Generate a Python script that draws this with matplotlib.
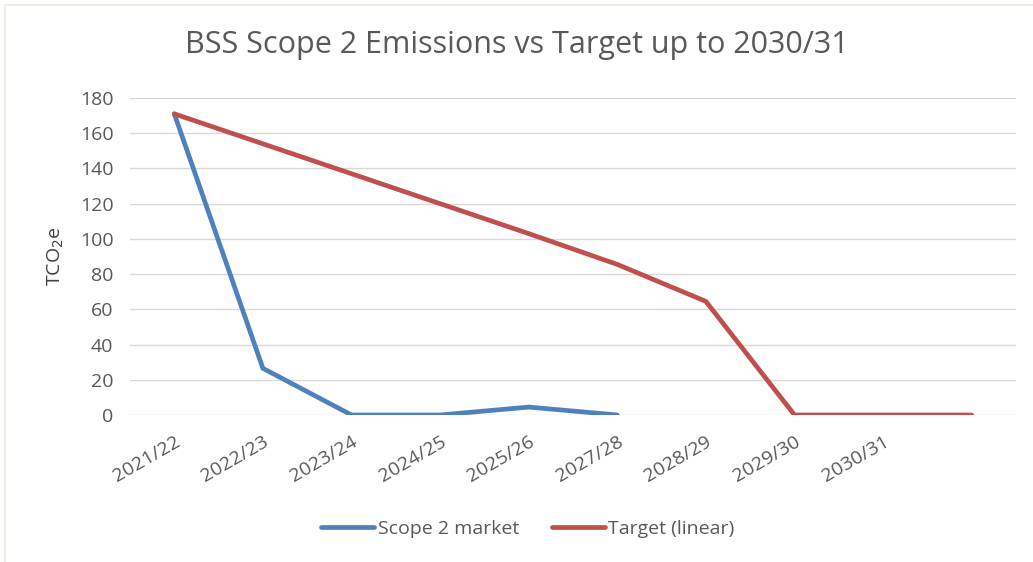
import matplotlib.pyplot as plt
import numpy as np
from matplotlib.patches import Rectangle

plt.rcParams['font.family'] = ['Open Sans', 'DejaVu Sans']

# data
years = ['2021/22', '2022/23', '2023/24', '2024/25', '2025/26',
         '2027/28', '2028/29', '2029/30', '2030/31', '']
scope2 = [171, 26.5, 0, 0, 4.5, 0, np.nan, np.nan, np.nan, np.nan]
target = [171, 154, 137, 120, 103, 85.5, 64.5, 0, 0, 0]
yticks = [0, 20, 40, 60, 80, 100, 120, 140, 160, 180]

grey = '#595959'
blue = '#4F81BD'
red = '#C0504D'

fig = plt.figure(figsize=(10.33, 5.62), dpi=100)
ax = fig.add_axes([130/1033, 1 - 415/562, 886/1033, 317/562])

# pale outer border like the excel chart frame
fig.patches.append(Rectangle((5/1033, -0.1), 1.2, 1 - 5/562 + 0.1, transform=fig.transFigure,
                             fill=False, edgecolor='#EEEDE2', linewidth=1.5))

x = np.arange(len(years))
ax.plot(x, scope2, color=blue, linewidth=3.4, solid_capstyle='round',
        solid_joinstyle='round', label='Scope 2 market')
ax.plot(x, target, color=red, linewidth=3.4, solid_capstyle='round',
        solid_joinstyle='round', label='Target (linear)')

ax.set_xlim(-0.5, len(years) - 0.5)
ax.set_ylim(0, 180)
ax.set_yticks(yticks)
ax.set_xticks(x)
ax.set_xticklabels(years, rotation=30, ha='right', rotation_mode='anchor')
ax.tick_params(axis='x', length=0, pad=13, labelsize=14, labelcolor=grey)
ax.tick_params(axis='y', length=0, pad=12, labelsize=14, labelcolor=grey)

ax.grid(axis='y', color='#D9D9D9', linewidth=1)
ax.set_axisbelow(True)
for s in ax.spines.values():
    s.set_visible(False)

ax.set_ylabel('TCO$_2$e', fontsize=14, color='#404040', labelpad=10)
fig.text(0.5, 1 - 45/562, 'BSS Scope 2 Emissions vs Target up to 2030/31',
         ha='center', va='center', fontsize=22, color='#595959')

fig.legend(loc='center', bbox_to_anchor=(528/1033, 1 - 529/562), ncol=2, frameon=False,
           fontsize=14, labelcolor=grey, handlelength=2.7, handletextpad=0.2,
           columnspacing=1.7)

fig.savefig('out.png', dpi=100)
